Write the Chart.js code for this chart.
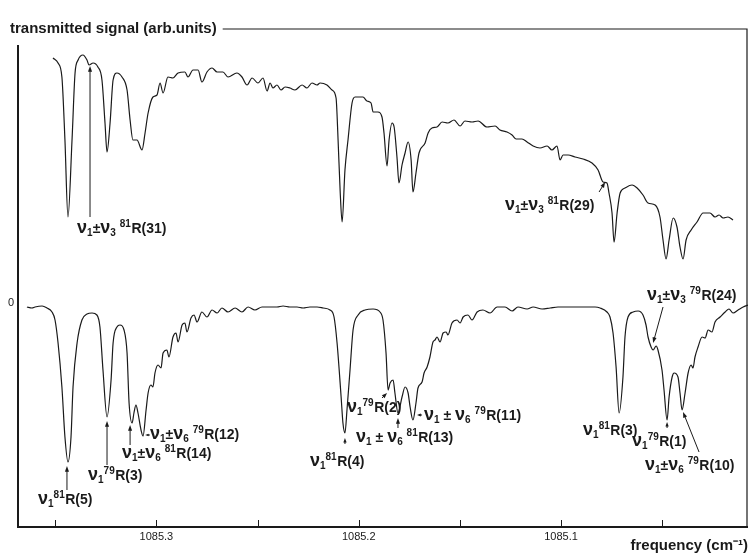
<!DOCTYPE html>
<html>
<head>
<meta charset="utf-8">
<script src="https://cdn.jsdelivr.net/npm/chart.js@4.4.1/dist/chart.umd.min.js"></script>
<style>
  html, body { margin: 0; padding: 0; background: #fff; }
  #wrap { width: 750px; height: 556px; }
</style>
</head>
<body>
<div id="wrap"><canvas id="spec" width="750" height="556"></canvas></div>
<script>
// frequency (cm-1) and signal (arb. units)
const upperFreq = [1085.3511,1085.3486,1085.3467,1085.3452,1085.3437,1085.3417,1085.3402,1085.3387,1085.3363,1085.3343,
  1085.3333,1085.3313,1085.3289,1085.3269,1085.3254,1085.3244,1085.3229,1085.3214,1085.3195,1085.3170,
  1085.3145,1085.3130,1085.3116,1085.3096,1085.3071,1085.3056,1085.3041,1085.3017,1085.2997,1085.2982,
  1085.2967,1085.2943,1085.2918,1085.2893,1085.2859,1085.2844,1085.2819,1085.2794,1085.2775,1085.2750,
  1085.2725,1085.2700,1085.2671,1085.2646,1085.2602,1085.2577,1085.2552,1085.2527,1085.2498,1085.2473,
  1085.2453,1085.2438,1085.2424,1085.2404,1085.2384,1085.2364,1085.2340,1085.2315,1085.2280,1085.2256,
  1085.2231,1085.2206,1085.2191,1085.2157,1085.2132,1085.2112,1085.2102,1085.2092,1085.2082,1085.2068,
  1085.2053,1085.2033,1085.2018,1085.1979,1085.1959,1085.1939,1085.1929,1085.1905,1085.1885,1085.1875,
  1085.1860,1085.1850,1085.1835,1085.1825,1085.1811,1085.1801,1085.1786,1085.1771,1085.1756,1085.1741,
  1085.1732,1085.1717,1085.1702,1085.1672,1085.1657,1085.1638,1085.1613,1085.1588,1085.1559,1085.1529,
  1085.1499,1085.1475,1085.1440,1085.1410,1085.1366,1085.1326,1085.1302,1085.1267,1085.1242,1085.1222,
  1085.1193,1085.1168,1085.1138,1085.1104,1085.1069,1085.1045,1085.1020,1085.1005,1085.0990,1085.0965,
  1085.0931,1085.0891,1085.0847,1085.0817,1085.0792,1085.0773,1085.0763,1085.0748,1085.0738,1085.0723,
  1085.0708,1085.0684,1085.0649,1085.0624,1085.0595,1085.0570,1085.0535,1085.0511,1085.0496,1085.0481,
  1085.0466,1085.0446,1085.0427,1085.0412,1085.0397,1085.0382,1085.0357,1085.0328,1085.0298,1085.0264,
  1085.0239,1085.0219,1085.0199,1085.0175,1085.0150];
const upperSignal = [2.48,2.43,2.29,1.66,0.89,1.66,2.33,2.46,2.51,2.46,
  2.41,2.43,2.39,2.26,1.83,1.54,1.83,2.26,2.33,2.29,
  2.16,1.86,1.66,1.66,1.56,1.73,1.93,2.09,2.11,2.23,
  2.13,2.29,2.28,2.33,2.34,2.29,2.36,2.36,2.24,2.34,
  2.38,2.34,2.34,2.29,2.33,2.29,2.21,2.28,2.23,2.28,
  2.15,2.23,2.18,2.21,2.16,2.19,2.18,2.16,2.21,2.18,
  2.23,2.21,2.23,2.21,2.16,2.08,1.66,1.16,0.84,1.36,
  1.66,2.03,2.09,2.09,2.05,2.03,1.94,1.94,1.89,1.73,
  1.40,1.66,1.83,1.79,1.49,1.23,1.41,1.53,1.64,1.46,
  1.14,1.33,1.53,1.63,1.73,1.78,1.79,1.84,1.83,1.86,
  1.80,1.85,1.84,1.85,1.79,1.80,1.76,1.74,1.71,1.67,
  1.67,1.64,1.60,1.58,1.60,1.56,1.60,1.46,1.51,1.51,
  1.49,1.47,1.43,1.36,1.24,1.23,1.13,0.93,0.64,0.93,
  1.13,1.18,1.21,1.18,1.11,1.03,1.01,0.89,0.66,0.47,
  0.66,0.88,0.79,0.59,0.47,0.66,0.76,0.84,0.93,0.93,
  0.89,0.91,0.88,0.89,0.86];

const lowerFreq = [1085.3640,1085.3615,1085.3600,1085.3565,1085.3541,1085.3516,1085.3501,1085.3486,1085.3467,1085.3452,
  1085.3437,1085.3422,1085.3412,1085.3392,1085.3368,1085.3343,1085.3318,1085.3294,1085.3279,1085.3264,
  1085.3244,1085.3224,1085.3214,1085.3195,1085.3180,1085.3160,1085.3145,1085.3135,1085.3120,1085.3111,
  1085.3101,1085.3091,1085.3076,1085.3066,1085.3051,1085.3041,1085.3027,1085.3017,1085.3007,1085.2992,
  1085.2977,1085.2967,1085.2948,1085.2938,1085.2918,1085.2903,1085.2893,1085.2873,1085.2859,1085.2849,
  1085.2829,1085.2814,1085.2799,1085.2775,1085.2750,1085.2725,1085.2700,1085.2676,1085.2646,1085.2611,
  1085.2577,1085.2547,1085.2513,1085.2478,1085.2438,1085.2404,1085.2374,1085.2340,1085.2305,1085.2275,
  1085.2241,1085.2206,1085.2176,1085.2142,1085.2122,1085.2107,1085.2087,1085.2078,1085.2068,1085.2058,
  1085.2043,1085.2028,1085.2003,1085.1969,1085.1929,1085.1895,1085.1880,1085.1865,1085.1855,1085.1845,
  1085.1830,1085.1821,1085.1806,1085.1786,1085.1771,1085.1756,1085.1746,1085.1732,1085.1717,1085.1707,
  1085.1687,1085.1677,1085.1662,1085.1648,1085.1633,1085.1623,1085.1613,1085.1598,1085.1583,1085.1568,
  1085.1559,1085.1539,1085.1514,1085.1499,1085.1484,1085.1460,1085.1440,1085.1415,1085.1386,1085.1351,
  1085.1316,1085.1277,1085.1242,1085.1213,1085.1168,1085.1138,1085.1094,1085.1054,1085.1015,1085.0970,
  1085.0921,1085.0872,1085.0832,1085.0807,1085.0773,1085.0758,1085.0743,1085.0728,1085.0713,1085.0694,
  1085.0684,1085.0669,1085.0644,1085.0619,1085.0595,1085.0580,1085.0570,1085.0555,1085.0545,1085.0530,
  1085.0521,1085.0501,1085.0491,1085.0476,1085.0466,1085.0451,1085.0441,1085.0422,1085.0412,1085.0402,
  1085.0387,1085.0372,1085.0357,1085.0348,1085.0338,1085.0323,1085.0303,1085.0288,1085.0273,1085.0254,
  1085.0239,1085.0214,1085.0189,1085.0170,1085.0150,1085.0125,1085.0100,1085.0076];
const lowerSignal = [-0.01,-0.02,-0.01,0.00,-0.02,-0.06,-0.14,-0.37,-0.81,-1.31,
  -1.56,-1.31,-0.81,-0.37,-0.14,-0.08,-0.07,-0.09,-0.21,-0.64,
  -1.11,-0.74,-0.37,-0.21,-0.19,-0.24,-0.47,-0.97,-1.17,-1.07,
  -0.99,-1.07,-1.24,-1.30,-1.04,-0.87,-0.79,-0.81,-0.67,-0.59,
  -0.62,-0.47,-0.44,-0.51,-0.31,-0.27,-0.36,-0.19,-0.17,-0.26,
  -0.12,-0.09,-0.16,-0.06,-0.11,-0.04,-0.07,-0.02,-0.06,-0.02,
  -0.06,-0.01,-0.04,-0.01,-0.01,-0.01,0.00,-0.01,-0.01,-0.02,
  -0.01,-0.01,-0.02,-0.04,-0.11,-0.37,-0.91,-1.17,-1.27,-1.04,
  -0.64,-0.24,-0.09,-0.04,-0.03,-0.06,-0.14,-0.47,-0.84,-0.77,
  -0.74,-0.87,-1.07,-0.91,-0.81,-0.87,-1.01,-1.14,-0.97,-0.82,
  -0.76,-0.67,-0.61,-0.51,-0.36,-0.34,-0.31,-0.36,-0.27,-0.26,
  -0.29,-0.17,-0.14,-0.17,-0.11,-0.09,-0.14,-0.06,-0.04,-0.07,
  -0.01,-0.01,-0.05,-0.01,-0.03,-0.01,-0.03,-0.02,-0.01,-0.01,
  -0.01,-0.01,-0.01,-0.02,-0.06,-0.11,-0.27,-0.61,-1.07,-0.71,
  -0.31,-0.11,-0.06,-0.05,-0.09,-0.19,-0.31,-0.41,-0.44,-0.40,
  -0.44,-0.64,-0.84,-1.14,-0.91,-0.71,-0.67,-0.71,-0.87,-1.04,
  -0.87,-0.67,-0.59,-0.62,-0.51,-0.41,-0.31,-0.32,-0.24,-0.26,
  -0.16,-0.11,-0.06,-0.03,-0.07,-0.04,-0.01,0.01];

const xMajorTicks = [1085.3, 1085.2, 1085.1];
const xMinorTicks = [1085.35, 1085.25, 1085.15, 1085.05];
const xTickLabels = ['1085.3', '1085.2', '1085.1'];
const yTickLabels = ['0'];
const yTickValues = [0];

// line assignments: _ = subscript, ^ = superscript
const lineLabels = [
  { text: 'ν_1±ν_3 ^81R(31)', x: 1085.3392, y: 0.78 },
  { text: 'ν_1±ν_3 ^81R(29)', x: 1085.1277, y: 1.01 },
  { text: 'ν_1^81R(5)', x: 1085.3585, y: -1.93 },
  { text: 'ν_1^79R(3)', x: 1085.3338, y: -1.69 },
  { text: 'ν_1±ν_6 ^81R(14)', x: 1085.3170, y: -1.47 },
  { text: 'ν_1±ν_6 ^79R(12)', x: 1085.3032, y: -1.28 },
  { text: 'ν_1^81R(4)', x: 1085.2241, y: -1.55 },
  { text: 'ν_1^79R(2)', x: 1085.2058, y: -1.01 },
  { text: 'ν_1 ± ν_6 ^81R(13)', x: 1085.2013, y: -1.31 },
  { text: 'ν_1 ± ν_6 ^79R(11)', x: 1085.1677, y: -1.09 },
  { text: 'ν_1^81R(3)', x: 1085.0891, y: -1.24 },
  { text: 'ν_1^79R(1)', x: 1085.0649, y: -1.35 },
  { text: 'ν_1±ν_3 ^79R(24)', x: 1085.0575, y: 0.11 },
  { text: 'ν_1±ν_6 ^79R(10)', x: 1085.0585, y: -1.59 }
];
const lineArrows = [
  { from: [1085.3328, 0.89], to: [1085.3328, 2.40] },
  { from: [1085.0812, 1.14], to: [1085.0782, 1.24] },
  { from: [1085.3442, -1.84], to: [1085.3442, -1.60] },
  { from: [1085.3244, -1.59], to: [1085.3244, -1.15] },
  { from: [1085.3130, -1.39], to: [1085.3130, -1.19] },
  { from: [1085.3032, -1.29], to: [1085.3056, -1.29] },
  { from: [1085.2068, -1.38], to: [1085.2068, -1.32] },
  { from: [1085.1885, -0.92], to: [1085.1860, -0.87] },
  { from: [1085.1806, -1.22], to: [1085.1806, -1.12] },
  { from: [1085.1687, -1.09], to: [1085.1712, -1.09] },
  { from: [1085.0476, -1.22], to: [1085.0476, -1.16] },
  { from: [1085.0496, -0.01], to: [1085.0545, -0.37] },
  { from: [1085.0318, -1.46], to: [1085.0397, -1.06] }
];

const INK = '#1a1a1a';
const LABEL_FONT = 'Liberation Sans, Arial, sans-serif';

function toPoints(xs, ys) {
  return xs.map((x, i) => ({ x: x, y: ys[i] }));
}

function drawRich(ctx, str, x, y, size) {
  let cx = x;
  let i = 0;
  ctx.textBaseline = 'alphabetic';
  ctx.textAlign = 'left';
  const base = y + size * 0.36;
  while (i < str.length) {
    const ch = str[i];
    if (ch === '_' || ch === '^') {
      let j = i + 1;
      let run = '';
      while (j < str.length && /[0-9]/.test(str[j])) { run += str[j]; j++; }
      const s = Math.round(size * 0.68);
      ctx.font = 'bold ' + s + 'px ' + LABEL_FONT;
      const dy = ch === '_' ? size * 0.22 : -size * 0.42;
      ctx.fillText(run, cx, base + dy);
      cx += ctx.measureText(run).width + (ch === '^' ? 0.5 : 0);
      i = j;
      continue;
    }
    if (ch === 'ν') {
      ctx.font = 'bold ' + Math.round(size * 1.3) + 'px ' + LABEL_FONT;
    } else {
      ctx.font = 'bold ' + size + 'px ' + LABEL_FONT;
    }
    ctx.fillText(ch, cx, base);
    cx += ctx.measureText(ch).width;
    i++;
  }
}

function drawArrow(ctx, x1, y1, x2, y2) {
  const ang = Math.atan2(y2 - y1, x2 - x1);
  const len = Math.hypot(x2 - x1, y2 - y1);
  const head = Math.min(6, len * 0.8);
  ctx.beginPath();
  ctx.moveTo(x1, y1);
  ctx.lineTo(x2 - Math.cos(ang) * head * 0.6, y2 - Math.sin(ang) * head * 0.6);
  ctx.stroke();
  ctx.beginPath();
  ctx.moveTo(x2, y2);
  ctx.lineTo(x2 - Math.cos(ang - 0.35) * head, y2 - Math.sin(ang - 0.35) * head);
  ctx.lineTo(x2 - Math.cos(ang + 0.35) * head, y2 - Math.sin(ang + 0.35) * head);
  ctx.closePath();
  ctx.fill();
}

const framePlugin = {
  id: 'frame',
  afterDraw(chart) {
    const ctx = chart.ctx;
    const a = chart.chartArea;
    const xs = chart.scales.x;
    const ys = chart.scales.y;
    ctx.save();
    ctx.strokeStyle = INK;
    ctx.fillStyle = INK;

    // axis title top-left, then the frame line continues from it
    ctx.font = 'bold 15px ' + LABEL_FONT;
    ctx.textBaseline = 'middle';
    ctx.textAlign = 'left';
    const title = 'transmitted signal (arb.units)';
    ctx.fillText(title, 10, a.top);
    const tw = ctx.measureText(title).width;

    ctx.lineWidth = 1.2;
    ctx.beginPath();
    ctx.moveTo(10 + tw + 6, a.top);
    ctx.lineTo(a.right - 1, a.top);
    ctx.lineTo(a.right - 1, a.bottom);
    ctx.stroke();

    ctx.lineWidth = 2;
    ctx.beginPath();
    ctx.moveTo(a.left, a.top + 16);
    ctx.lineTo(a.left, a.bottom);
    ctx.lineTo(a.right, a.bottom);
    ctx.stroke();

    // bottom ticks point into the plot
    ctx.lineWidth = 1;
    xMajorTicks.concat(xMinorTicks).forEach(v => {
      const px = Math.round(xs.getPixelForValue(v)) + 0.5;
      ctx.beginPath();
      ctx.moveTo(px, a.bottom);
      ctx.lineTo(px, a.bottom - 7);
      ctx.stroke();
    });
    ctx.font = '11px ' + LABEL_FONT;
    ctx.textAlign = 'center';
    ctx.textBaseline = 'top';
    xMajorTicks.forEach((v, i) => {
      ctx.fillText(xTickLabels[i], xs.getPixelForValue(v), a.bottom + 4);
    });

    ctx.textAlign = 'right';
    ctx.textBaseline = 'middle';
    yTickValues.forEach((v, i) => {
      ctx.fillText(yTickLabels[i], a.left - 4, ys.getPixelForValue(v) - 3);
    });

    ctx.font = 'bold 15px ' + LABEL_FONT;
    ctx.textAlign = 'right';
    ctx.textBaseline = 'middle';
    ctx.fillText('frequency (cm\u207B\u00B9)', a.right, a.bottom + 19);

    // line assignments
    lineLabels.forEach(l => {
      drawRich(ctx, l.text, xs.getPixelForValue(l.x), ys.getPixelForValue(l.y), 14);
    });
    ctx.lineWidth = 1;
    lineArrows.forEach(ar => {
      drawArrow(ctx,
        xs.getPixelForValue(ar.from[0]), ys.getPixelForValue(ar.from[1]),
        xs.getPixelForValue(ar.to[0]), ys.getPixelForValue(ar.to[1]));
    });
    ctx.restore();
  }
};

new Chart(document.getElementById('spec'), {
  type: 'line',
  data: {
    datasets: [
      { label: 'upper', data: toPoints(upperFreq, upperSignal) },
      { label: 'lower', data: toPoints(lowerFreq, lowerSignal) }
    ]
  },
  options: {
    responsive: false,
    animation: false,
    devicePixelRatio: 1,
    layout: { padding: { left: 18, right: 2, top: 29, bottom: 29 } },
    elements: {
      line: { borderColor: INK, borderWidth: 1.2, cubicInterpolationMode: 'monotone', fill: false },
      point: { radius: 0 }
    },
    scales: {
      x: { type: 'linear', reverse: true, min: 1085.0076, max: 1085.3684, display: false },
      y: { type: 'linear', min: -2.21, max: 2.77, display: false }
    },
    plugins: { legend: { display: false }, tooltip: { enabled: false } }
  },
  plugins: [framePlugin]
});
</script>
</body>
</html>
